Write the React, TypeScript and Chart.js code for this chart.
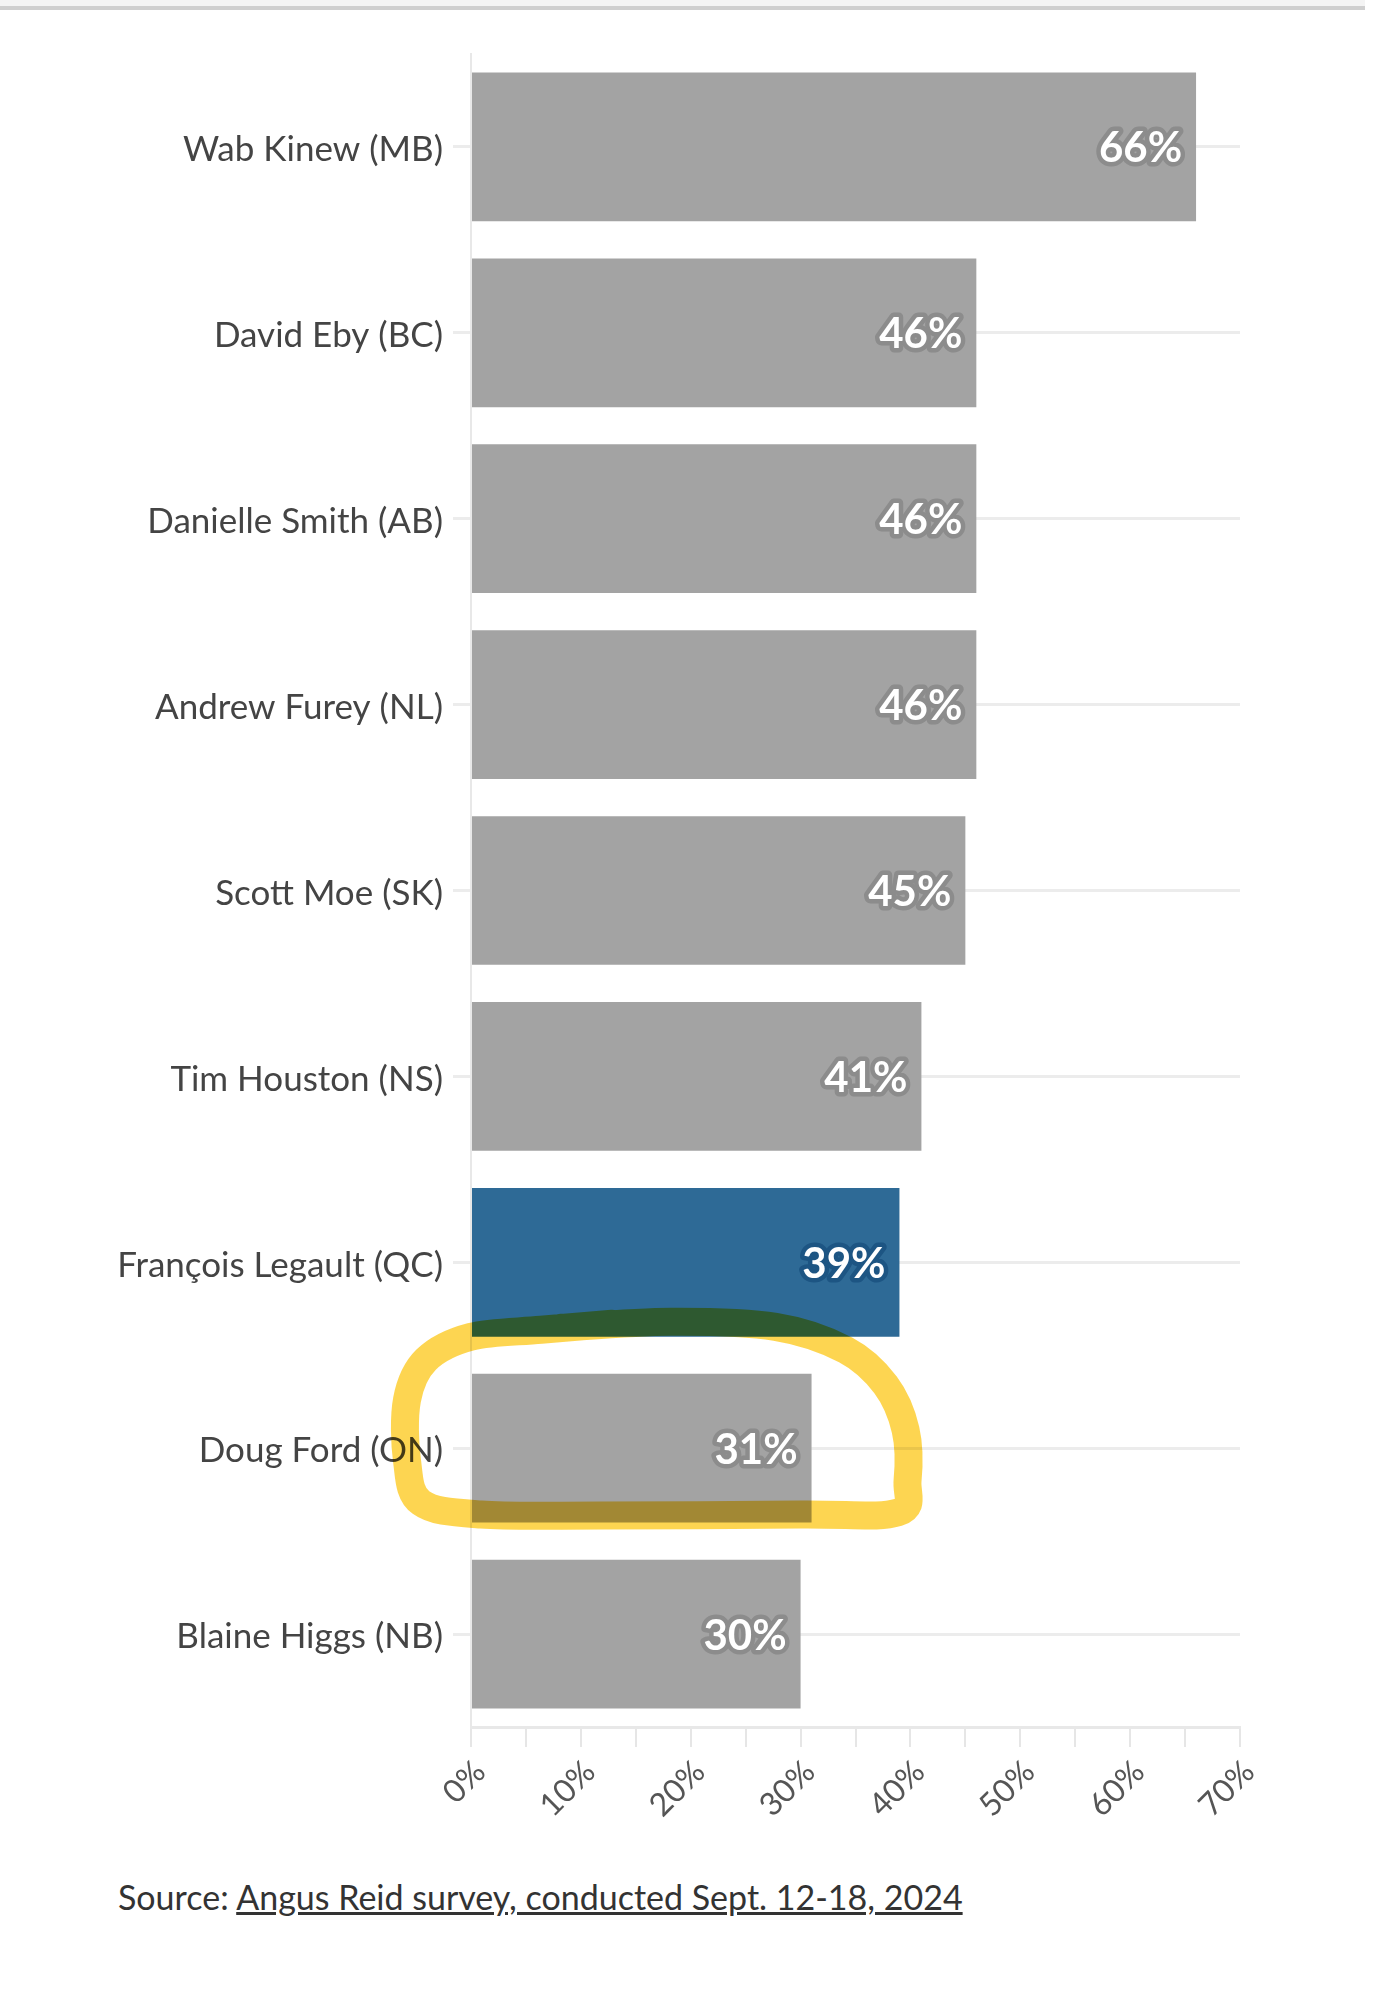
import React, { useEffect, useRef } from "react";
import { Chart, registerables } from "chart.js";

Chart.register(...registerables);

const categories = [
  "Wab Kinew (MB)",
  "David Eby (BC)",
  "Danielle Smith (AB)",
  "Andrew Furey (NL)",
  "Scott Moe (SK)",
  "Tim Houston (NS)",
  "François Legault (QC)",
  "Doug Ford (ON)",
  "Blaine Higgs (NB)",
];
const approval = [66, 46, 46, 46, 45, 41, 39, 31, 30];
const highlightedIndex = 6; // Quebec bar in blue
const circledIndex = 7; // hand-drawn circle around Doug Ford
const xTickValues = [0, 10, 20, 30, 40, 50, 60, 70];

const GRAY = "#a3a3a3";
const GRAY_HALO = "#8c8c8c";
const BLUE = "#2e6a96";
const BLUE_HALO = "#1d5583";
const FONT = "Lato, 'Source Sans Pro', 'Noto Sans', sans-serif";

// hand-drawn highlight path, offsets relative to circled bar edges
// [anchorX, dx, anchorY, dy] where anchorX: L=base, R=end; anchorY: T=top, B=bottom
const circlePath: [string, number, string, number][] = [
  ["L", 89, "T", -46],
  ["R", -141, "T", -52],
  ["R", -36, "T", -47],
  ["R", 34, "T", -24],
  ["R", 74, "T", 11],
  ["R", 94, "T", 56],
  ["R", 96, "B", -42],
  ["R", 86, "B", -10],
  ["R", -11, "B", -8],
  ["L", 129, "B", -7],
  ["L", 9, "B", -8],
  ["L", -51, "B", -20],
  ["L", -65, "B", -62],
  ["L", -65, "T", 26],
  ["L", -46, "T", -14],
  ["L", -1, "T", -37],
  ["L", 69, "T", -44],
  ["L", 140, "T", -50],
];

const valueLabelPlugin = {
  id: "valueLabels",
  afterDatasetsDraw(chart: any) {
    const ctx = chart.ctx;
    const meta = chart.getDatasetMeta(0);
    ctx.save();
    ctx.font = `bold 42px ${FONT}`;
    ctx.textAlign = "right";
    ctx.textBaseline = "middle";
    ctx.lineJoin = "round";
    meta.data.forEach((el: any, i: number) => {
      const txt = `${approval[i]}%`;
      const x = el.x - 14;
      const y = el.y + 2;
      ctx.strokeStyle = i === highlightedIndex ? BLUE_HALO : GRAY_HALO;
      ctx.lineWidth = 9;
      ctx.strokeText(txt, x, y);
      ctx.fillStyle = "#ffffff";
      ctx.fillText(txt, x, y);
    });
    ctx.restore();
  },
};

const circlePlugin = {
  id: "circleHighlight",
  afterDraw(chart: any) {
    const el: any = chart.getDatasetMeta(0).data[circledIndex];
    if (!el) return;
    const L = el.base;
    const R = el.x;
    const T = el.y - el.height / 2;
    const B = el.y + el.height / 2;
    const pts = circlePath.map(([ax, dx, ay, dy]) => [
      (ax === "L" ? L : R) + dx,
      (ay === "T" ? T : B) + dy,
    ]);
    const ctx = chart.ctx;
    ctx.save();
    ctx.globalCompositeOperation = "multiply";
    ctx.globalAlpha = 0.85;
    ctx.strokeStyle = "rgb(253,206,50)";
    ctx.lineWidth = 28;
    ctx.lineCap = "round";
    ctx.lineJoin = "round";
    ctx.beginPath();
    ctx.moveTo(pts[0][0], pts[0][1]);
    for (let i = 0; i < pts.length - 1; i++) {
      const p0 = pts[Math.max(0, i - 1)];
      const p1 = pts[i];
      const p2 = pts[i + 1];
      const p3 = pts[Math.min(pts.length - 1, i + 2)];
      const c1x = p1[0] + (p2[0] - p0[0]) / 6;
      const c1y = p1[1] + (p2[1] - p0[1]) / 6;
      const c2x = p2[0] - (p3[0] - p1[0]) / 6;
      const c2y = p2[1] - (p3[1] - p1[1]) / 6;
      ctx.bezierCurveTo(c1x, c1y, c2x, c2y, p2[0], p2[1]);
    }
    ctx.stroke();
    ctx.restore();
  },
};

export default function App() {
  const ref = useRef<HTMLCanvasElement>(null);

  useEffect(() => {
    if (!ref.current) return;
    const chart = new Chart(ref.current, {
      type: "bar",
      data: {
        labels: categories,
        datasets: [
          {
            data: approval,
            backgroundColor: approval.map((_, i) => (i === highlightedIndex ? BLUE : GRAY)),
            borderWidth: 0,
            barPercentage: 0.8,
            categoryPercentage: 1,
          },
        ],
      },
      options: {
        indexAxis: "y",
        animation: false,
        responsive: false,
        devicePixelRatio: 1,
        layout: { padding: { top: 54, right: 143, left: 0, bottom: 0 } },
        plugins: {
          legend: { display: false },
          tooltip: { enabled: false },
        },
        scales: {
          y: {
            type: "category",
            afterFit: (s: any) => {
              s.width = 471;
            },
            grid: {
              offset: false,
              color: "#ececec",
              lineWidth: 3,
              tickLength: 18,
            },
            border: { display: true, color: "#e8e8e8", width: 2 },
            ticks: {
              color: "#444444",
              padding: 10,
              labelOffset: 3,
              font: { family: FONT, size: 35 },
            },
          },
          x: {
            type: "linear",
            min: 0,
            max: 70,
            afterFit: (s: any) => {
              s.height = 123;
            },
            afterBuildTicks: (s: any) => {
              const t: any[] = [];
              for (let v = 0; v <= 70; v += 5) t.push({ value: v });
              s.ticks = t;
            },
            grid: {
              drawOnChartArea: false,
              color: "#e6e6e6",
              lineWidth: 2,
              tickLength: 20,
            },
            border: { display: true, color: "#e8e8e8", width: 3 },
            ticks: {
              autoSkip: false,
              maxRotation: 45,
              minRotation: 45,
              color: "#555555",
              padding: 6,
              labelOffset: 9,
              font: { family: FONT, size: 32 },
              callback: (v: any) => (xTickValues.includes(Number(v)) ? `${v}%` : ""),
            },
          },
        },
      },
      plugins: [valueLabelPlugin, circlePlugin],
    });
    return () => chart.destroy();
  }, []);

  return (
    <div style={{ position: "absolute", left: 0, top: 0, width: 1383, height: 2000, background: "#fff" }}>
      <div style={{ position: "absolute", left: 0, top: 0, width: 1365, height: 6, background: "#f4f4f4" }} />
      <div style={{ position: "absolute", left: 0, top: 6, width: 1365, height: 4, background: "#cfcfcf" }} />
      <canvas ref={ref} width={1383} height={1850} style={{ position: "absolute", left: 0, top: 0 }} />
      <div
        style={{
          position: "absolute",
          left: 118,
          top: 1878,
          fontFamily: FONT,
          fontSize: 34,
          lineHeight: "38px",
          color: "#333",
          whiteSpace: "nowrap",
        }}
      >
        Source: <span style={{ textDecoration: "underline" }}>Angus Reid survey, conducted Sept. 12-18, 2024</span>
      </div>
    </div>
  );
}
